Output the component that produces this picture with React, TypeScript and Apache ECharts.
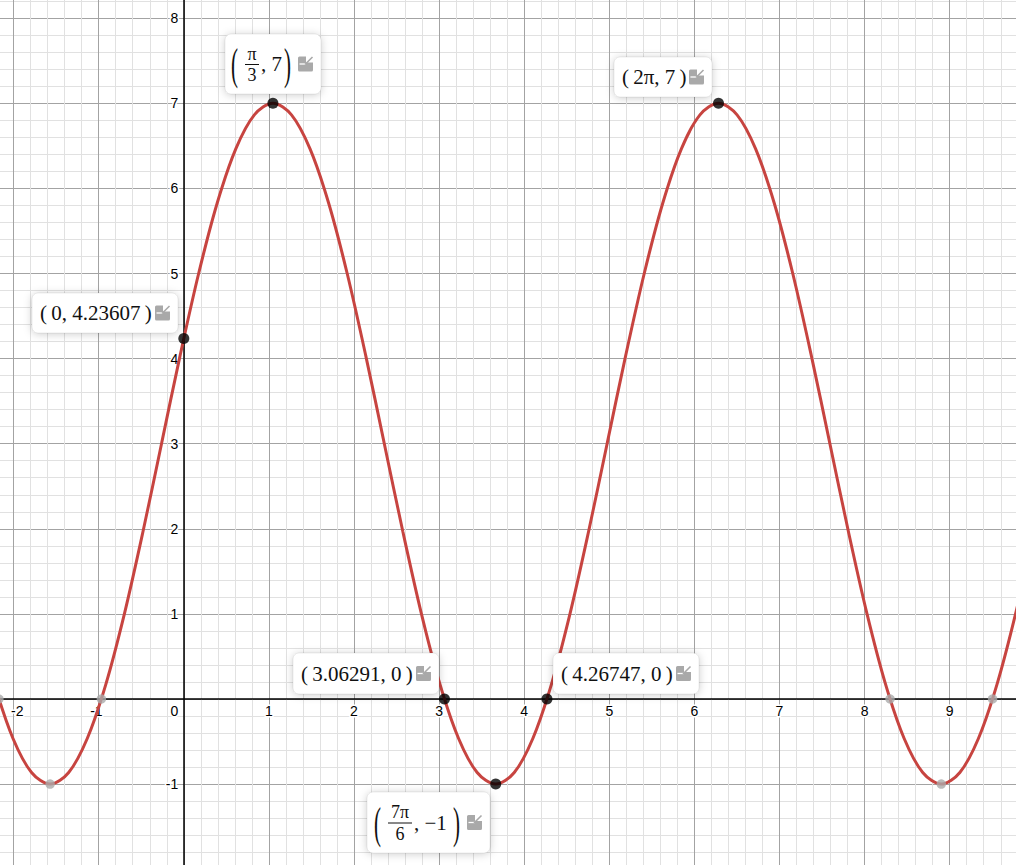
import React, { useEffect, useRef } from 'react';
import * as echarts from 'echarts';

// Curve samples (evenly spaced, peaks and troughs included)
const curveX = [
  -2.2253, -2.0071, -1.789, -1.5708, -1.3526, -1.1345, -0.9163, -0.6981, -0.48, -0.2618, -0.0436, 0.1745,
  0.3927, 0.6109, 0.829, 1.0472, 1.2654, 1.4835, 1.7017, 1.9199, 2.138, 2.3562, 2.5744, 2.7925, 3.0107,
  3.2289, 3.447, 3.6652, 3.8834, 4.1015, 4.3197, 4.5379, 4.756, 4.9742, 5.1924, 5.4105, 5.6287, 5.8469,
  6.065, 6.2832, 6.5013, 6.7195, 6.9377, 7.1558, 7.374, 7.5922, 7.8103, 8.0285, 8.2467, 8.4648, 8.683,
  8.9012, 9.1193, 9.3375, 9.5557, 9.7738, 9.992,
];
const curveY = [
  0.1716, -0.4641, -0.8637, -1, -0.8637, -0.4641, 0.1716, 1, 1.9647, 3, 4.0353, 5, 5.8284, 6.4641, 6.8637,
  7, 6.8637, 6.4641, 5.8284, 5, 4.0353, 3, 1.9647, 1, 0.1716, -0.4641, -0.8637, -1, -0.8637, -0.4641,
  0.1716, 1, 1.9647, 3, 4.0353, 5, 5.8284, 6.4641, 6.8637, 7, 6.8637, 6.4641, 5.8284, 5, 4.0353, 3, 1.9647,
  1, 0.1716, -0.4641, -0.8637, -1, -0.8637, -0.4641, 0.1716, 1, 1.9647,
];

// Labelled points
const pointX = [1.0472, 6.28319, 0, 3.06291, 4.26747, 3.66519];
const pointY = [7, 7, 4.23607, 0, 0, -1];
const pointLabels = ['(π/3, 7)', '(2π, 7)', '(0, 4.23607)', '(3.06291, 0)', '(4.26747, 0)', '(7π/6, −1)'];

// Unlabelled (grey) points
const greyX = [-2.17308, -1.5708, -0.96852, 8.2989, 8.90118, 9.50346];
const greyY = [0, -1, 0, 0, -1, 0];

// Axis ranges (extend past the visible window) and tick labels
const xRange = [-3, 10];
const yRange = [-2, 9];
const xTickLabels = [-2, -1, 0, 1, 2, 3, 4, 5, 6, 7, 8, 9];
const yTickLabels = [-1, 1, 2, 3, 4, 5, 6, 7, 8];

const AXIS_FONT = '"Liberation Sans", Arial, sans-serif';
const MATH_FONT = '"Liberation Serif", "Times New Roman", serif';

// label box layouts (relative to the point pixel)
const boxLayout = [
  { dx: -48, dy: -69, w: 96, h: 60, fx: 27, barW: 14, restX: 36, closeX: 59, openX: 6 },
  { dx: -104, dy: -46, w: 98, h: 40 },
  { dx: -152, dy: -46, w: 146, h: 40 },
  { dx: -151, dy: -46, w: 146, h: 41 },
  { dx: 6, dy: -46, w: 146, h: 41 },
  { dx: -129, dy: 8, w: 123, h: 61, fx: 33, barW: 24, restX: 47, closeX: 86, openX: 7 },
];

const Z = 100;

function txt(text: string, x: number, y: number, size: number, align: string, extra: any = {}) {
  return {
    type: 'text',
    x,
    y,
    z: Z + 1,
    ...extra,
    style: {
      text,
      font: `${size}px ${MATH_FONT}`,
      fill: '#111',
      align,
      verticalAlign: 'middle',
      textAlign: align,
      textVerticalAlign: 'middle',
    },
  };
}

function tickText(text: string, x: number, y: number, align: string) {
  return {
    type: 'text',
    x,
    y,
    z: 1,
    silent: true,
    style: {
      text,
      font: `14px ${AXIS_FONT}`,
      fill: '#000',
      stroke: '#fff',
      lineWidth: 3,
      align,
      verticalAlign: 'middle',
      textAlign: align,
      textVerticalAlign: 'middle',
    },
  };
}

function icon(ox: number, oy: number) {
  return [
    { type: 'rect', z: Z + 1, shape: { x: ox, y: oy, width: 15, height: 15, r: 1.5 }, style: { fill: '#a9a9a9' } },
    { type: 'rect', z: Z + 1, shape: { x: ox + 8, y: oy - 0.5, width: 7.5, height: 6.5 }, style: { fill: '#fff' } },
    { type: 'line', z: Z + 1, shape: { x1: ox + 1.5, y1: oy + 7.5, x2: ox + 8, y2: oy + 7.5 }, style: { stroke: '#fff', lineWidth: 1.3 } },
    { type: 'line', z: Z + 1, shape: { x1: ox + 7, y1: oy + 8, x2: ox + 14.5, y2: oy + 0.5 }, style: { stroke: '#a9a9a9', lineWidth: 1.6 } },
  ];
}

function buildLabel(i: number, p: number[]) {
  const L: any = boxLayout[i];
  const label = pointLabels[i];
  const cy = L.h / 2;
  const children: any[] = [
    {
      type: 'rect',
      z: Z,
      shape: { x: 0, y: 0, width: L.w, height: L.h, r: 6 },
      style: {
        fill: '#fff',
        stroke: 'rgba(0,0,0,0.07)',
        lineWidth: 1,
        shadowBlur: 8,
        shadowOffsetY: 1,
        shadowColor: 'rgba(0,0,0,0.2)',
      },
    },
  ];
  const inner = label.slice(1, -1);
  const ci = inner.indexOf(', ');
  const first = inner.slice(0, ci);
  const rest = inner.slice(ci);
  if (first.indexOf('/') >= 0) {
    const [num, den] = first.split('/');
    children.push(txt('(', L.openX, cy, 21, 'left', { scaleY: 2.1 }));
    children.push(txt(num, L.fx, cy - 10.5, 18, 'center'));
    children.push({
      type: 'line',
      z: Z + 1,
      shape: { x1: L.fx - L.barW / 2, y1: cy + 0.5, x2: L.fx + L.barW / 2, y2: cy + 0.5 },
      style: { stroke: '#111', lineWidth: 1 },
    });
    children.push(txt(den, L.fx, cy + 11, 18, 'center'));
    children.push(txt(rest, L.restX, cy, 21, 'left'));
    children.push(txt(')', L.closeX, cy, 21, 'left', { scaleY: 2.1 }));
  } else {
    children.push(txt('(\u2009' + inner + '\u2009)', 8, cy, 21, 'left'));
  }
  children.push(...icon(L.w - 23, cy - 7.5));
  return {
    type: 'group',
    x: Math.round(p[0] + L.dx),
    y: Math.round(p[1] + L.dy),
    z: Z,
    children,
  };
}

export default function App() {
  const ref = useRef<HTMLDivElement>(null);
  useEffect(() => {
    if (!ref.current) return;
    const chart = echarts.init(ref.current, null, { renderer: 'svg' });
    const axisCommon = (isX: boolean) => ({
      type: 'value',
      min: isX ? xRange[0] : yRange[0],
      max: isX ? xRange[1] : yRange[1],
      interval: 1,
      axisLine: { show: true, onZero: true, lineStyle: { color: '#000', width: 1.5 } },
      axisTick: { show: false },
      axisLabel: { show: false },
      minorTick: { show: false, splitNumber: 5 },
      splitLine: { show: true, lineStyle: { color: '#a3a3a3', width: 1 } },
      minorSplitLine: { show: true, lineStyle: { color: '#e1e1e1', width: 1 } },
    });

    chart.setOption({
      animation: false,
      backgroundColor: '#fff',
      grid: {
        left: 0.5,
        top: 0.1,
        width: 1106.3,
        height: 936.1,
        containLabel: false,
        outerBoundsMode: 'none',
      },
      xAxis: axisCommon(true),
      yAxis: axisCommon(false),
      series: [
        {
          type: 'line',
          data: curveX.map((x, i) => [x, curveY[i]]),
          showSymbol: false,
          smooth: 0.33,
          silent: true,
          lineStyle: { color: '#c74440', width: 3 },
          z: 2,
        },
        {
          type: 'scatter',
          data: greyX.map((x, i) => [x, greyY[i]]),
          symbolSize: 9.5,
          itemStyle: { color: '#aaaaaa' },
          z: 3,
        },
        {
          type: 'scatter',
          data: pointX.map((x, i) => [x, pointY[i]]),
          symbolSize: 11,
          itemStyle: { color: '#000' },
          z: 4,
        },
      ],
    });

    const toPx = (x: number, y: number) =>
      chart.convertToPixel({ xAxisIndex: 0, yAxisIndex: 0 }, [x, y]) as number[];
    const origin = toPx(0, 0);
    const viewLeft = 72; // page x=0 inside the chart div

    const ticks: any[] = [];
    xTickLabels.forEach((v) => {
      const p = toPx(v, 0);
      const ly = origin[1] + 12;
      if (v === 0) {
        ticks.push(tickText('0', origin[0] - 5.5, ly, 'right'));
      } else if (v < 0) {
        const s = String(v);
        const w = 4.7 + 7.8 * (s.length - 1);
        let right = p[0] + 3.9;
        if (right - w < viewLeft + 11) right = viewLeft + 11 + w;
        ticks.push(tickText(s, right, ly, 'right'));
      } else {
        ticks.push(tickText(String(v), p[0], ly, 'center'));
      }
    });
    yTickLabels.forEach((v) => {
      const p = toPx(0, v);
      ticks.push(tickText(String(v), origin[0] - 5.5, p[1], 'right'));
    });

    const pts = pointX.map((x, i) => toPx(x, pointY[i]));
    chart.setOption({
      graphic: { elements: [...ticks, ...pts.map((p, i) => buildLabel(i, p))] },
    });
    return () => chart.dispose();
  }, []);
  return (
    <div
      ref={ref}
      style={{ position: 'fixed', left: -72, top: -67, width: 1108, height: 937, background: '#fff' }}
    />
  );
}
